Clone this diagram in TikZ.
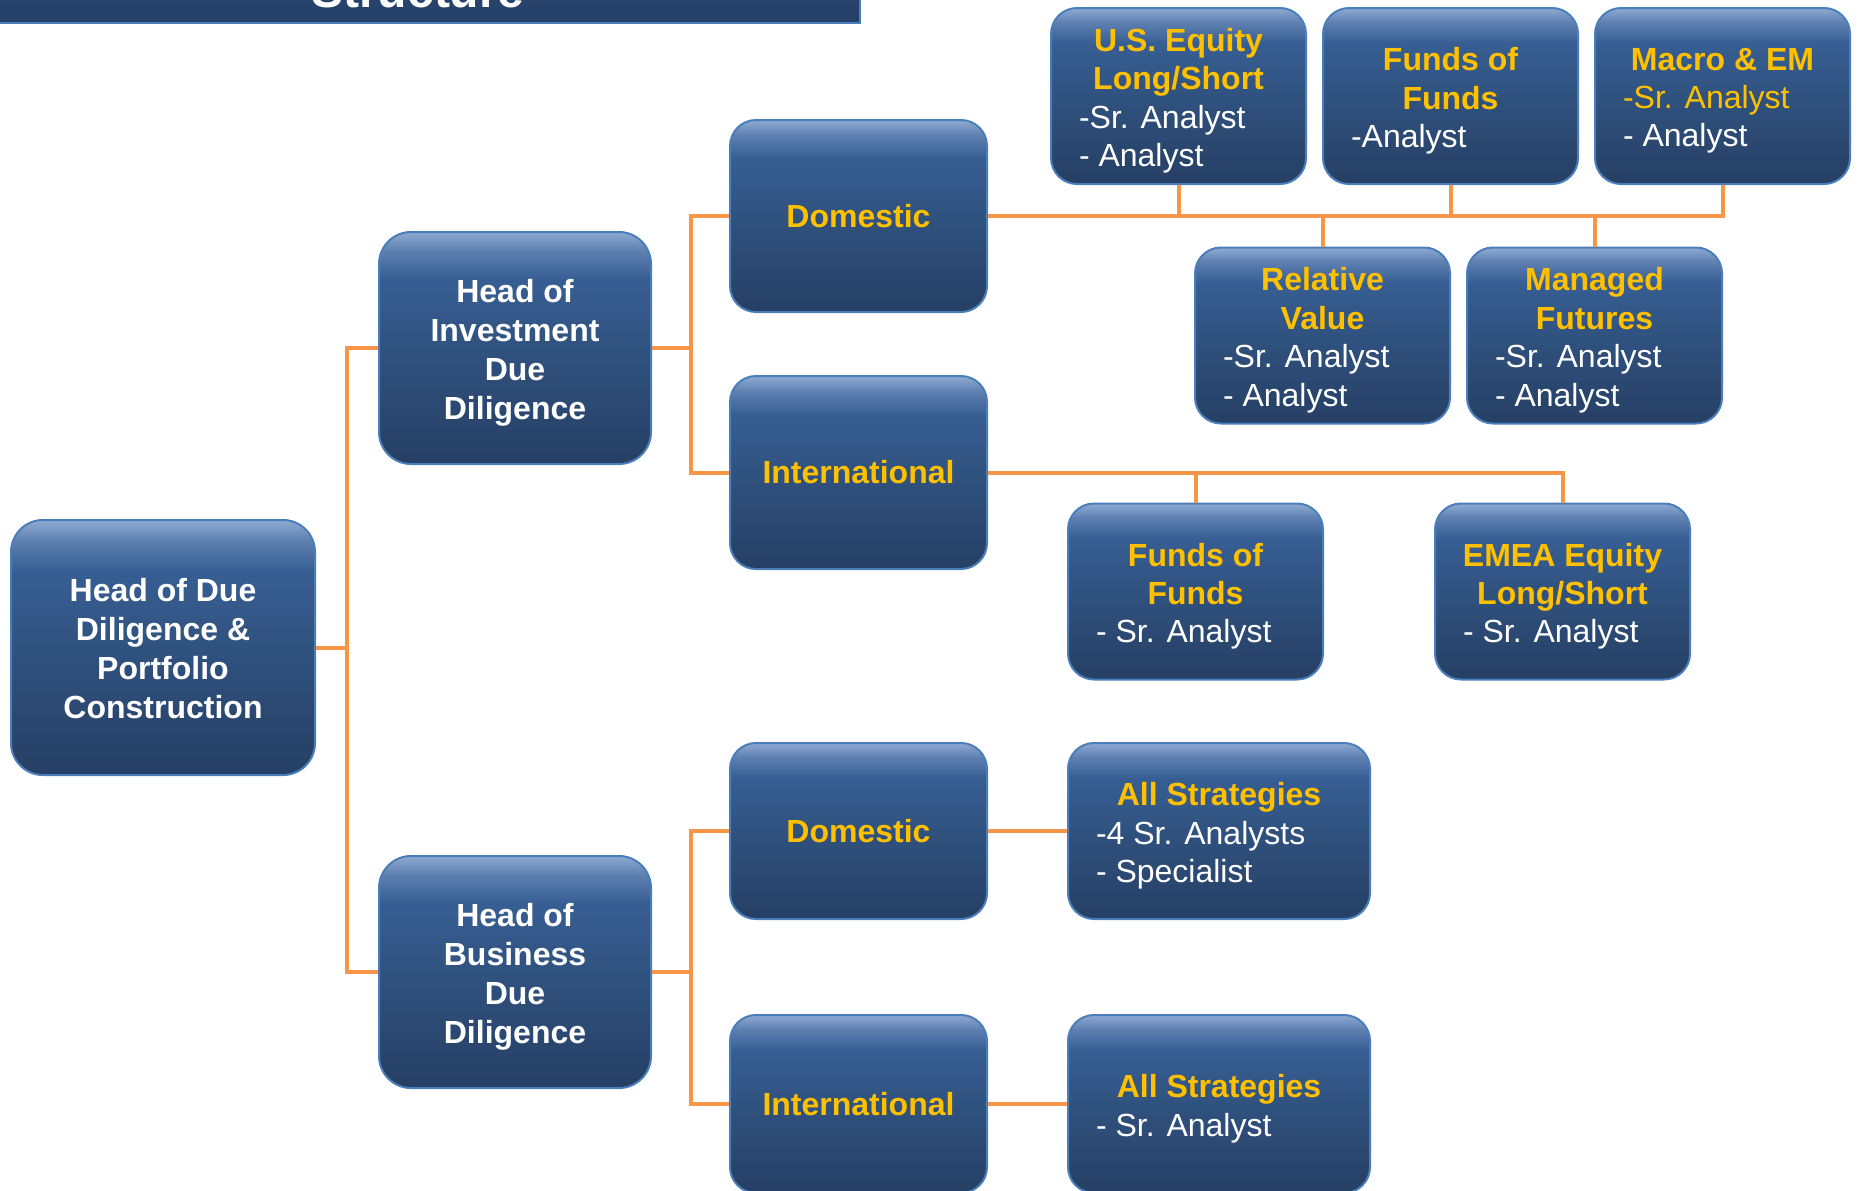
\documentclass[tikz,border=0pt]{standalone}
\usepackage{fontspec}
\setmainfont{Liberation Sans}
\definecolor{btop}{HTML}{8EAAD2}
\definecolor{bhi}{HTML}{5E80B1}
\definecolor{bmid}{HTML}{375E93}
\definecolor{bmid2}{HTML}{30527F}
\definecolor{bbot}{HTML}{263F64}
\definecolor{bord}{HTML}{4A7EBB}
\definecolor{gold}{HTML}{FFC000}
\definecolor{conn}{HTML}{F79646}
\definecolor{ttop}{HTML}{2F4F7C}
\definecolor{tbot}{HTML}{254067}
\pgfdeclareverticalshading{boxshade}{100bp}{color(0bp)=(bbot); color(25bp)=(bbot); color(50bp)=(bmid2); color(65bp)=(bmid); color(71bp)=(bhi); color(75bp)=(btop); color(100bp)=(btop)}
\pgfdeclareverticalshading{barshade}{100bp}{color(0bp)=(tbot); color(25bp)=(tbot); color(75bp)=(ttop); color(100bp)=(ttop)}
\newcommand\boxttl[1]{\hbox to\hsize{\hss\bfseries\color{gold}#1\hss}}
\newcommand\boxln[1]{\hbox to\hsize{#1\hss}}
\newcommand\boxlngold[1]{\hbox to\hsize{\color{gold}#1\hss}}
\newcommand\boxctr[1]{\hbox to\hsize{\hss#1\hss}}
\tikzset{
  box/.style={draw=bord, line width=1pt, rounded corners=13pt, shading=boxshade,
    inner sep=0pt, text=white, font=\fontsize{16}{19.2}\selectfont},
  smallbox/.style={box, minimum width=127.5pt, minimum height=88pt},
  midbox/.style={box, minimum width=128.5pt, text=gold, font=\bfseries\fontsize{16}{19.2}\selectfont},
  headbox/.style={box, rounded corners=16pt, font=\bfseries\fontsize{16}{19.5}\selectfont},
  link/.style={draw=conn, line width=2pt},
}
\begin{document}
\begin{tikzpicture}[x=0.5pt, y=-0.5pt]
\useasboundingbox (0,0) rectangle (1862,1190);
\clip (0,0) rectangle (1862,1190);
% title bar
\shade[shading=barshade, draw=bord, line width=1.2pt] (-10,-80) rectangle (860,23);
\node[anchor=base, text=white, font=\bfseries\fontsize{24}{28}\selectfont] (title) at (418,7) {Structure};
% main nodes
\node[headbox, minimum width=152pt, minimum height=127.5pt] (root) at (163,647.5) {\vbox{\hsize=140pt \kern1.2pt \boxctr{Head of Due}\boxctr{Diligence \&}\boxctr{Portfolio}\boxctr{Construction}}};
\node[headbox, minimum width=136pt, minimum height=116pt] (hid) at (515,348) {\vbox{\hsize=130pt \kern4.8pt \boxctr{Head of}\boxctr{Investment}\boxctr{Due}\boxctr{Diligence}}};
\node[headbox, minimum width=136pt, minimum height=116pt] (hbd) at (515,972) {\vbox{\hsize=130pt \kern4.8pt \boxctr{Head of}\boxctr{Business}\boxctr{Due}\boxctr{Diligence}}};
\node[midbox, minimum height=96pt] (dom1) at (858.5,216) {Domestic};
\node[midbox, minimum height=96.5pt] (int1) at (858.5,472.5) {International};
\node[midbox, minimum height=88pt] (dom2) at (858.5,831) {Domestic};
\node[midbox, minimum height=89pt] (int2) at (858.5,1104) {International};
% leaf nodes
\node[smallbox] (useq) at (1178.5,96) {\vbox{\hsize=99.5pt \kern4.8pt \boxttl{U.S. Equity}\boxttl{Long/Short}\boxln{-Sr. Analyst}\boxln{- Analyst}}};
\node[smallbox] (foft) at (1450.5,96) {\vbox{\hsize=99.5pt \kern4.8pt \boxttl{Funds of}\boxttl{Funds}\boxln{-Analyst}}};
\node[smallbox] (macro) at (1722.5,96) {\vbox{\hsize=99.5pt \kern4.8pt \boxttl{Macro \& EM}\boxlngold{-Sr. Analyst}\boxln{- Analyst}}};
\node[smallbox] (rv) at (1322.5,335.5) {\vbox{\hsize=99.5pt \kern4.8pt \boxttl{Relative}\boxttl{Value}\boxln{-Sr. Analyst}\boxln{- Analyst}}};
\node[smallbox] (mf) at (1594.5,335.5) {\vbox{\hsize=99.5pt \kern4.8pt \boxttl{Managed}\boxttl{Futures}\boxln{-Sr. Analyst}\boxln{- Analyst}}};
\node[smallbox] (fofi) at (1195.5,591.5) {\vbox{\hsize=99.5pt \kern4.8pt \boxttl{Funds of}\boxttl{Funds}\boxln{- Sr. Analyst}}};
\node[smallbox] (emea) at (1562.5,591.5) {\vbox{\hsize=99.5pt \kern4.8pt \boxttl{EMEA Equity}\boxttl{Long/Short}\boxln{- Sr. Analyst}}};
\node[smallbox, minimum width=151pt] (as1) at (1219,831) {\vbox{\hsize=123pt \kern4.8pt \boxttl{All Strategies}\boxln{-4 Sr. Analysts}\boxln{- Specialist}}};
\node[smallbox, minimum width=151pt, minimum height=89pt] (as2) at (1219,1104) {\vbox{\hsize=123pt \kern4.8pt \boxttl{All Strategies}\boxln{- Sr. Analyst}}};
% connectors
\coordinate (j1) at ([xshift=15.5pt]root.east);
\draw[link] (root.east) -- (j1);
\draw[link] (hid.west) -| (j1) |- (hbd.west);
\coordinate (j2) at ([xshift=19.5pt]hid.east);
\draw[link] (hid.east) -- (j2);
\draw[link] (dom1.west) -| (j2) |- (int1.west);
\coordinate (j3) at ([xshift=19.5pt]hbd.east);
\draw[link] (hbd.east) -- (j3);
\draw[link] (dom2.west) -| (j3) |- (int2.west);
\draw[link] (dom1.east) -- (macro.south |- dom1.east) -- (macro.south);
\draw[link] (useq.south) -- (useq.south |- dom1.east);
\draw[link] (foft.south) -- (foft.south |- dom1.east);
\draw[link] (rv.north) -- (rv.north |- dom1.east);
\draw[link] (mf.north) -- (mf.north |- dom1.east);
\draw[link] (int1.east) -- (emea.north |- int1.east) -- (emea.north);
\draw[link] (fofi.north) -- (fofi.north |- int1.east);
\draw[link] (dom2.east) -- (as1.west);
\draw[link] (int2.east) -- (as2.west);
\end{tikzpicture}
\end{document}
